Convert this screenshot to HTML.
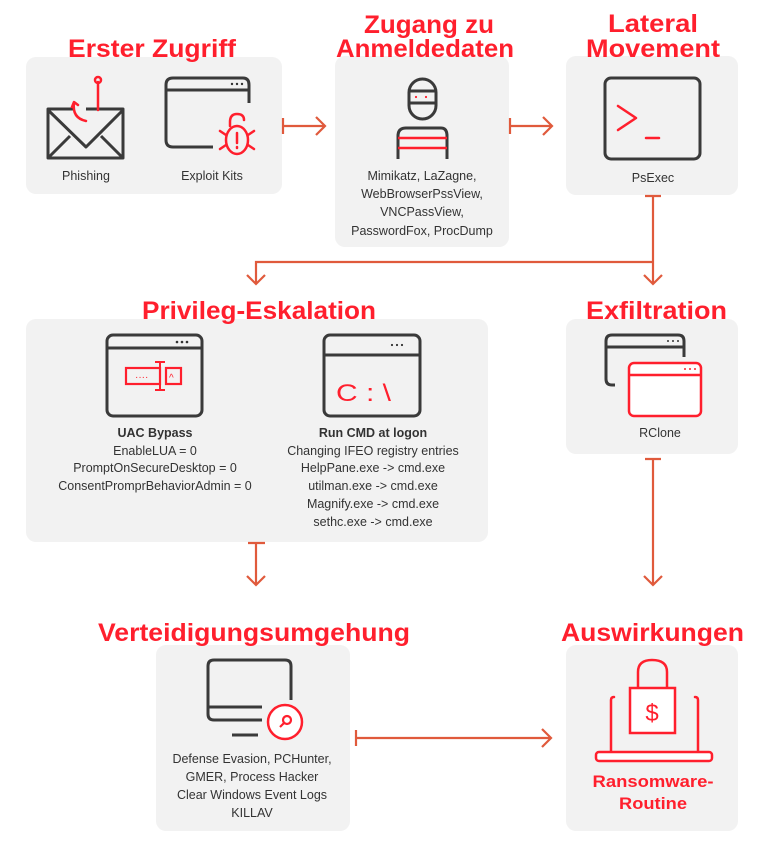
<!DOCTYPE html>
<html><head><meta charset="utf-8"><style>
html,body{margin:0;padding:0;background:#fff;}
svg{display:block;}
.t{font-family:"Liberation Sans Narrow","Liberation Sans",sans-serif;font-weight:bold;fill:#ff1f2d;font-size:25px;}
.b{font-family:"Liberation Sans",sans-serif;fill:#333;font-size:12.5px;}
.bb{font-family:"Liberation Sans",sans-serif;fill:#333;font-size:12.5px;font-weight:bold;}
.k{fill:none;stroke:#3a3a3a;stroke-width:3;stroke-linejoin:round;}
.r{fill:none;stroke:#ff1f2d;stroke-width:2.5;stroke-linecap:round;stroke-linejoin:round;}
.a{fill:none;stroke:#e05a3c;stroke-width:2.2;}
</style></head><body>
<svg width="769" height="848" viewBox="0 0 769 848" xmlns="http://www.w3.org/2000/svg">
<g fill="#f2f2f2">
<rect x="26" y="57" width="256" height="137" rx="10"/>
<rect x="335" y="56" width="174" height="191" rx="10"/>
<rect x="566" y="56" width="172" height="139" rx="10"/>
<rect x="26" y="319" width="462" height="223" rx="10"/>
<rect x="566" y="319" width="172" height="135" rx="10"/>
<rect x="156" y="645" width="194" height="186" rx="10"/>
<rect x="566" y="645" width="172" height="186" rx="10"/>
</g>
<text class="t" x="68" y="57" textLength="168" lengthAdjust="spacingAndGlyphs">Erster Zugriff</text>
<text class="t" x="364" y="33" textLength="130" lengthAdjust="spacingAndGlyphs">Zugang zu</text>
<text class="t" x="336" y="57" textLength="178" lengthAdjust="spacingAndGlyphs">Anmeldedaten</text>
<text class="t" x="608" y="32" textLength="90" lengthAdjust="spacingAndGlyphs">Lateral</text>
<text class="t" x="586" y="57" textLength="134" lengthAdjust="spacingAndGlyphs">Movement</text>
<text class="t" x="142" y="319" textLength="234" lengthAdjust="spacingAndGlyphs">Privileg-Eskalation</text>
<text class="t" x="586" y="319" textLength="141" lengthAdjust="spacingAndGlyphs">Exfiltration</text>
<text class="t" x="98" y="641" textLength="312" lengthAdjust="spacingAndGlyphs">Verteidigungsumgehung</text>
<text class="t" x="561" y="641" textLength="183" lengthAdjust="spacingAndGlyphs">Auswirkungen</text>

<!-- envelope -->
<rect class="k" x="48" y="109" width="75" height="49" fill="#fff"/>
<path class="k" d="M48 110 L86 147 L123 110 M48 158 L70 136 M123 158 L101 136"/>
<rect x="74" y="104" width="12" height="10" fill="#f2f2f2"/>
<path class="r" d="M98 82 V110"/><circle class="r" cx="98" cy="80" r="3"/>
<path class="r" d="M74 103 Q72 118 86 121 M72 107 l2 -5 l4 3"/>
<text class="b" x="86" y="180" text-anchor="middle">Phishing</text>
<!-- exploit window -->
<path class="k" d="M213 147 H173 Q166 147 166 140 V85 Q166 78 173 78 H243 Q249 78 249 85 V103" fill="#fff"/>
<path class="k" d="M166 90 H249"/>
<circle cx="232" cy="84" r="1.2" fill="#333"/><circle cx="237" cy="84" r="1.2" fill="#333"/><circle cx="242" cy="84" r="1.2" fill="#333"/>
<ellipse class="r" cx="237" cy="140" rx="11" ry="14" fill="#f2f2f2"/>
<path class="r" d="M230 126 V122 Q230 114 237 114 Q244 114 244 120 M226 135 L220 131 M248 135 L254 131 M226 145 L220 149 M248 145 L254 149 M237 133 V143 M237 147 V148"/>
<text class="b" x="212" y="180" text-anchor="middle">Exploit Kits</text>
<!-- ninja -->
<rect class="k" x="409" y="79" width="27" height="40" rx="13.5" fill="#fff"/>
<path class="k" d="M409 91 H436 M409 103 H436"/>
<circle cx="416" cy="97" r="1.1" fill="#ff1f2d"/><circle cx="426" cy="97" r="1.1" fill="#ff1f2d"/>
<path class="k" d="M398 159 V136 Q398 128 406 128 H441 Q447 128 447 136 V159" fill="#fff"/>
<path d="M398 138 H447 M398 148 H447" stroke="#ff1f2d" stroke-width="2.5"/>
<text class="b" x="422" y="180" text-anchor="middle">Mimikatz, LaZagne,</text>
<text class="b" x="422" y="198" text-anchor="middle">WebBrowserPssView,</text>
<text class="b" x="422" y="216" text-anchor="middle">VNCPassView,</text>
<text class="b" x="422" y="235" text-anchor="middle">PasswordFox, ProcDump</text>
<!-- terminal -->
<rect class="k" x="605" y="78" width="95" height="81" rx="6" fill="#fff"/>
<path class="r" d="M618 106 L636 118 L618 130"/><path class="r" d="M646 138 H659"/>
<text class="b" x="653" y="182" text-anchor="middle">PsExec</text>

<!-- UAC window -->
<rect class="k" x="107" y="335" width="95" height="81" rx="6" fill="#fff"/>
<path class="k" d="M107 348 H202"/>
<circle cx="177" cy="342" r="1.3" fill="#333"/><circle cx="182" cy="342" r="1.3" fill="#333"/><circle cx="187" cy="342" r="1.3" fill="#333"/>
<rect x="126" y="368" width="34" height="16" fill="none" stroke="#ff1f2d" stroke-width="2.2"/>
<rect x="166" y="368" width="15" height="16" fill="none" stroke="#ff1f2d" stroke-width="2.2"/>
<path d="M160 362 V390 M155 362 H165 M155 390 H165" stroke="#ff1f2d" stroke-width="2"/>
<text x="135" y="380" fill="#ff1f2d" font-size="10" font-family="Liberation Sans">····</text>
<text x="169" y="381" fill="#ff1f2d" font-size="10" font-family="Liberation Sans">^</text>
<text class="bb" x="155" y="437" text-anchor="middle">UAC Bypass</text>
<text class="b" x="155" y="455" text-anchor="middle">EnableLUA = 0</text>
<text class="b" x="155" y="472" text-anchor="middle">PromptOnSecureDesktop = 0</text>
<text class="b" x="155" y="490" text-anchor="middle">ConsentPromprBehaviorAdmin = 0</text>
<!-- CMD window -->
<rect class="k" x="324" y="335" width="96" height="81" rx="6" fill="#fff"/>
<path class="k" d="M324 355 H420"/>
<circle cx="392" cy="345" r="1.1" fill="#333"/><circle cx="397" cy="345" r="1.1" fill="#333"/><circle cx="402" cy="345" r="1.1" fill="#333"/>
<text x="336" y="401" fill="#ff1f2d" font-size="24" font-family="Liberation Sans Narrow,Liberation Sans" textLength="55" lengthAdjust="spacingAndGlyphs">C : \</text>
<text class="bb" x="373" y="437" text-anchor="middle">Run CMD at logon</text>
<text class="b" x="373" y="455" text-anchor="middle">Changing IFEO registry entries</text>
<text class="b" x="373" y="472" text-anchor="middle">HelpPane.exe -&gt; cmd.exe</text>
<text class="b" x="373" y="490" text-anchor="middle">utilman.exe -&gt; cmd.exe</text>
<text class="b" x="373" y="508" text-anchor="middle">Magnify.exe -&gt; cmd.exe</text>
<text class="b" x="373" y="526" text-anchor="middle">sethc.exe -&gt; cmd.exe</text>
<!-- exfil -->
<path class="k" d="M615 385 H612 Q606 385 606 379 V341 Q606 335 612 335 H678 Q684 335 684 341 V357"/>
<path class="k" d="M606 347 H684"/>
<circle cx="668" cy="341" r="1" fill="#333"/><circle cx="673" cy="341" r="1" fill="#333"/><circle cx="678" cy="341" r="1" fill="#333"/>
<rect x="629" y="363" width="72" height="53" rx="5" fill="#fff" stroke="#ff1f2d" stroke-width="2.5"/>
<path d="M629 375 H701" stroke="#ff1f2d" stroke-width="2.5"/>
<circle cx="685" cy="369" r="1" fill="#ff1f2d"/><circle cx="690" cy="369" r="1" fill="#ff1f2d"/><circle cx="695" cy="369" r="1" fill="#ff1f2d"/>
<text class="b" x="660" y="437" text-anchor="middle">RClone</text>

<!-- defense monitor -->
<path class="k" d="M262 720 H214 Q208 720 208 714 V666 Q208 660 214 660 H285 Q291 660 291 666 V700" fill="#fff"/>
<path class="k" d="M208 707 H262 M232 735 H258"/>
<circle cx="285" cy="722" r="17" fill="#fff" stroke="#ff1f2d" stroke-width="2.5"/>
<circle cx="287" cy="720" r="4" fill="none" stroke="#ff1f2d" stroke-width="2.2"/>
<path d="M284 723 L280 727" stroke="#ff1f2d" stroke-width="2.2"/>
<text class="b" x="252" y="763" text-anchor="middle">Defense Evasion, PCHunter,</text>
<text class="b" x="252" y="781" text-anchor="middle">GMER, Process Hacker</text>
<text class="b" x="252" y="799" text-anchor="middle">Clear Windows Event Logs</text>
<text class="b" x="252" y="817" text-anchor="middle">KILLAV</text>
<!-- ransom -->
<path class="r" d="M611 752 V700 Q611 697 614 697 M695 697 Q698 697 698 700 V752"/>
<rect x="596" y="752" width="116" height="9" rx="3" fill="#fff" stroke="#ff1f2d" stroke-width="2.5"/>
<path class="r" d="M638 688 V672 Q638 660 652 660 Q667 660 667 672 V688"/>
<rect x="630" y="688" width="45" height="45" fill="#fff" stroke="#ff1f2d" stroke-width="2.5"/>
<text x="652" y="721" text-anchor="middle" fill="#ff1f2d" font-size="24" font-family="Liberation Sans">$</text>
<text x="653" y="787" text-anchor="middle" fill="#ff1f2d" font-size="17" font-weight="bold" font-family="Liberation Sans Narrow,Liberation Sans" textLength="121" lengthAdjust="spacingAndGlyphs">Ransomware-</text>
<text x="653" y="809" text-anchor="middle" fill="#ff1f2d" font-size="17" font-weight="bold" font-family="Liberation Sans Narrow,Liberation Sans" textLength="68" lengthAdjust="spacingAndGlyphs">Routine</text>

<!-- arrows -->
<path class="a" d="M283 118 V134 M283 126 H325 M316 117 L325 126 L316 135"/>
<path class="a" d="M510 118 V134 M510 126 H552 M543 117 L552 126 L543 135"/>
<path class="a" d="M645 196 H661 M653 196 V284 M644 275 L653 284 L662 275 M653 262 H256 V284 M247 275 L256 284 L265 275"/>
<path class="a" d="M248 543 H265 M256 543 V585 M247 576 L256 585 L265 576"/>
<path class="a" d="M645 459 H661 M653 459 V585 M644 576 L653 585 L662 576"/>
<path class="a" d="M356 730 V746 M356 738 H551 M542 729 L551 738 L542 747"/>
</svg>
</body></html>
